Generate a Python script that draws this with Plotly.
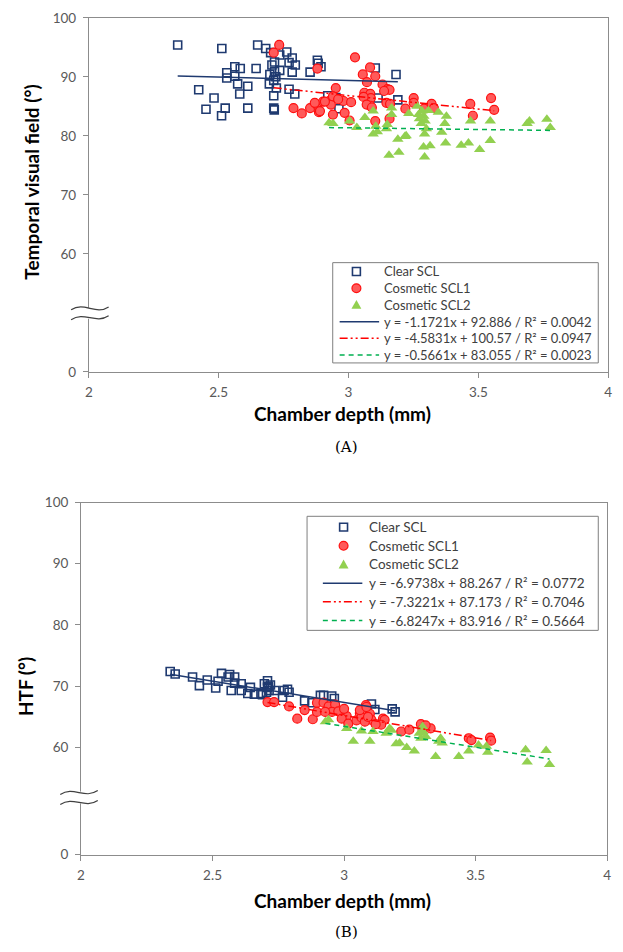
import plotly.graph_objects as go

# ---------------- DATA ----------------
series_names = ["Clear SCL", "Cosmetic SCL1", "Cosmetic SCL2"]

# Panel A: Temporal visual field (deg) vs chamber depth (mm)
a_clear_x = [2.342, 2.512, 2.650, 2.681, 2.700, 2.735, 2.762, 2.783, 2.771, 2.795, 2.783, 2.852, 2.880, 2.883, 2.894,
             2.531, 2.562, 2.583, 2.531, 2.562, 2.573, 2.581, 2.612, 2.644, 2.423, 2.482, 2.451, 2.525, 2.511, 2.612,
             2.712, 2.714, 2.697, 2.695, 2.712, 2.715, 2.715, 2.712, 2.722, 2.735, 2.771, 2.793, 3.103, 3.183, 2.920,
             2.951, 2.963, 3.114, 3.190, 2.705, 2.720]
a_clear_y = [95.4, 94.8, 95.4, 94.8, 94.1, 93.7, 94.2, 93.2, 92.4, 92.0, 90.8, 90.8, 92.8, 92.3, 91.7,
             90.7, 91.7, 91.4, 89.8, 90.1, 88.8, 87.1, 88.4, 91.4, 87.8, 86.4, 84.5, 84.7, 83.4, 84.7,
             84.7, 84.4, 90.4, 88.8, 89.4, 90.9, 92.5, 86.8, 88.1, 91.1, 87.9, 87.1, 91.5, 90.4, 86.8,
             86.5, 84.6, 86.4, 86.1, 92.0, 90.0]

a_cos1_x = [2.733, 2.712, 2.788, 2.820, 2.852, 2.880, 2.886, 2.880, 3.025, 3.083, 3.055, 3.103, 3.071, 3.131, 3.150,
            3.158, 2.951, 3.061, 3.084, 3.086, 3.058, 3.137, 2.902, 2.932, 2.932, 2.981, 3.010, 2.940, 2.909, 2.890,
            2.940, 2.985, 3.004, 3.103, 3.158, 3.084, 3.146, 3.160, 3.251, 3.251, 3.219, 3.291, 3.320, 3.329, 3.469,
            3.479, 3.549, 3.561, 2.960, 3.070, 3.090, 2.870]
a_cos1_y = [95.4, 94.1, 84.7, 83.8, 84.7, 85.2, 84.0, 91.4, 93.3, 91.6, 90.4, 90.1, 89.1, 88.7, 87.9,
            87.8, 88.1, 87.3, 87.1, 86.4, 86.6, 87.6, 85.8, 86.1, 85.3, 85.9, 85.7, 86.7, 85.8, 84.2,
            83.6, 83.9, 82.6, 82.5, 82.9, 85.1, 85.6, 85.4, 86.4, 85.6, 84.6, 84.6, 85.4, 84.7, 85.4,
            83.4, 86.4, 84.4, 86.2, 85.3, 84.8, 85.6]

a_cos2_x = [2.925, 2.940, 3.004, 3.032, 3.063, 3.095, 3.095, 3.111, 3.105, 3.146, 3.149, 3.166, 3.166, 3.190, 3.217,
            3.156, 3.194, 3.232, 3.264, 3.273, 3.280, 3.295, 3.293, 3.289, 3.293, 3.314, 3.308, 3.346, 3.359, 3.371,
            3.377, 3.374, 3.434, 3.462, 3.470, 3.505, 3.546, 3.546, 3.688, 3.697, 3.764, 3.777, 3.283, 3.290, 3.300,
            3.270, 3.222]
a_cos2_y = [82.2, 82.1, 82.5, 81.4, 83.1, 84.2, 80.3, 80.7, 81.6, 81.2, 81.9, 84.7, 83.6, 79.4, 79.9,
            76.7, 77.2, 83.8, 85.0, 82.9, 82.1, 82.5, 80.3, 78.1, 76.4, 78.3, 84.3, 84.0, 80.6, 82.1,
            83.3, 78.8, 78.4, 78.8, 82.5, 77.7, 82.5, 79.2, 82.1, 82.5, 82.8, 81.4, 84.2, 83.3, 81.2,
            83.6, 80.0]

a_slopes = [-1.1721, -4.5831, -0.5661]
a_intercepts = [92.886, 100.57, 83.055]
a_r2 = ["0.0042", "0.0947", "0.0023"]
a_intercept_txt = ["92.886", "100.57", "83.055"]

# Panel B: HTF (deg) vs chamber depth (mm)
b_clear_x = [2.339, 2.358, 2.424, 2.450, 2.480, 2.512, 2.521, 2.534, 2.559, 2.565, 2.584, 2.571, 2.584, 2.609, 2.609,
             2.634, 2.644, 2.659, 2.684, 2.697, 2.709, 2.709, 2.715, 2.720, 2.737, 2.766, 2.772, 2.791, 2.785, 2.850,
             2.878, 2.910, 2.922, 2.953, 2.963, 3.104, 3.117, 3.183, 3.194, 2.705, 2.712, 2.690]
b_clear_y = [72.4, 72.0, 71.5, 70.1, 71.0, 69.7, 70.8, 72.1, 71.5, 71.9, 71.5, 69.3, 70.5, 69.3, 70.4,
             68.8, 69.8, 68.7, 68.8, 70.4, 70.9, 69.8, 69.3, 70.2, 69.3, 68.2, 69.3, 69.0, 69.5, 67.6,
             67.3, 68.5, 68.5, 68.4, 68.0, 67.1, 66.2, 66.3, 65.8, 69.0, 70.0, 68.6]

b_cos1_x = [2.709, 2.734, 2.791, 2.822, 2.850, 2.881, 2.897, 2.897, 2.922, 2.941, 2.966, 2.954, 2.928, 2.978, 3.010,
            2.991, 3.016, 3.047, 3.060, 3.079, 3.098, 3.066, 3.104, 3.079, 3.083, 3.060, 3.085, 3.091, 3.148, 3.154,
            3.141, 3.217, 3.248, 3.292, 3.329, 3.298, 3.310, 3.474, 3.484, 3.555, 3.559, 3.120, 3.000]
b_cos1_y = [67.4, 67.4, 66.7, 64.7, 66.1, 64.6, 65.8, 67.3, 67.3, 66.7, 67.0, 65.8, 65.8, 65.9, 65.1,
            64.7, 63.9, 64.4, 65.6, 65.9, 65.5, 64.9, 64.5, 64.2, 66.9, 66.1, 66.6, 65.0, 64.7, 64.5,
            63.7, 62.6, 62.9, 63.8, 63.1, 63.0, 63.6, 61.5, 61.2, 61.6, 61.1, 63.8, 66.3]

b_cos2_x = [2.929, 2.941, 3.010, 3.035, 3.066, 3.098, 3.110, 3.160, 3.173, 3.198, 3.211, 3.238, 3.267, 3.286, 3.298,
            3.292, 3.311, 3.348, 3.367, 3.373, 3.436, 3.474, 3.511, 3.546, 3.541, 3.690, 3.696, 3.768, 3.781, 3.180,
            3.300, 3.360]
b_cos2_y = [64.2, 64.5, 63.1, 61.0, 62.7, 61.0, 62.6, 62.3, 63.1, 60.6, 60.7, 60.0, 59.4, 62.3, 63.4,
            61.5, 61.8, 58.5, 61.5, 60.7, 58.5, 59.4, 60.4, 59.2, 60.2, 59.6, 57.6, 59.5, 57.2, 62.8,
            62.6, 61.0]

b_slopes = [-6.9738, -7.3221, -6.8247]
b_intercepts = [88.267, 87.173, 83.916]
b_r2 = ["0.0772", "0.7046", "0.5664"]
b_intercept_txt = ["88.267", "87.173", "83.916"]

x_ticks = [2, 2.5, 3, 3.5, 4]
a_y_tickvals = [40, 60, 70, 80, 90, 100]      # "0" drawn below the axis break
b_y_tickvals = [42.5, 60, 70, 80, 90, 100]
y_ticktext = ["0", "60", "70", "80", "90", "100"]

# ---------------- STYLE ----------------
W, H = 623, 952
NAVY = "#1F3A70"
RED_FILL = "#FF5A5A"
RED_EDGE = "#FF1010"
GREEN = "#92D050"
GREEN_LINE = "#00B050"
AXIS = "#8C8C8C"
SANS = "Lato, Carlito, Calibri, sans-serif"
TICKFONT = dict(family=SANS, size=13.5, color="#595959")


def PX(x):
    return x / W


def PY(y):
    return 1 - y / H


marker_styles = [
    dict(symbol="square-open", size=8, color=NAVY, line=dict(width=1.6, color=NAVY)),
    dict(symbol="circle", size=9, color=RED_FILL, line=dict(width=1.2, color=RED_EDGE)),
    dict(symbol="triangle-up", size=10, color=GREEN, line=dict(width=0)),
]
line_styles = [
    dict(color=NAVY, width=1.5, dash="solid"),
    dict(color="#FF0000", width=1.5, dash="8px,3px,2px,3px,2px,3px"),
    dict(color=GREEN_LINE, width=1.5, dash="5px,4px"),
]

fig = go.Figure()

panels = [
    dict(xs=[a_clear_x, a_cos1_x, a_cos2_x], ys=[a_clear_y, a_cos1_y, a_cos2_y],
         slopes=a_slopes, ints=a_intercepts, itxt=a_intercept_txt, r2=a_r2, xa="x", ya="y",
         # legend box (pixels): left, top, right, bottom, marker-x, line x0, line x1, text-x, row0, row step, font
         leg=(333, 259, 602, 361, 357, 340, 380, 383, 268, 17, 13)),
    dict(xs=[b_clear_x, b_cos1_x, b_cos2_x], ys=[b_clear_y, b_cos1_y, b_cos2_y],
         slopes=b_slopes, ints=b_intercepts, itxt=b_intercept_txt, r2=b_r2, xa="x2", ya="y2",
         leg=(307, 517, 602, 633, 344, 323, 363, 368, 528, 19, 13.5)),
]

for p in panels:
    labels = []
    for i, name in enumerate(series_names):
        fig.add_trace(go.Scatter(x=p["xs"][i], y=p["ys"][i], mode="markers", name=name,
                                 marker=marker_styles[i], xaxis=p["xa"], yaxis=p["ya"]))
        labels.append(name)
    for i in range(3):
        x0, x1 = min(p["xs"][i]), max(p["xs"][i])
        s, c = p["slopes"][i], p["ints"][i]
        label = f"y = {s:.4f}x + {p['itxt'][i]} / R\u00b2 = {p['r2'][i]}"
        fig.add_trace(go.Scatter(x=[x0, x1], y=[s * x0 + c, s * x1 + c], mode="lines", name=label,
                                 line=line_styles[i], xaxis=p["xa"], yaxis=p["ya"]))
        labels.append(label)

    # Legend box drawn as layout decoration
    L, T, R, B, mx, lx0, lx1, tx, r0, step, fs = p["leg"]
    fig.add_shape(type="rect", xref="paper", yref="paper", x0=PX(L), x1=PX(R), y0=PY(B), y1=PY(T),
                  fillcolor="white", line=dict(color="#7F7F7F", width=1), layer="above")
    for k, lab in enumerate(labels):
        yc = r0 + k * step
        fig.add_annotation(xref="paper", yref="paper", x=PX(tx), y=PY(yc), xanchor="left", yanchor="middle",
                           text=lab, showarrow=False, font=dict(family=SANS, size=fs, color="#404040"))
        if k == 0:
            fig.add_shape(type="rect", xref="paper", yref="paper", x0=PX(mx - 4), x1=PX(mx + 4),
                          y0=PY(yc + 4), y1=PY(yc - 4), line=dict(color=NAVY, width=1.6),
                          fillcolor="rgba(0,0,0,0)", layer="above")
        elif k == 1:
            fig.add_shape(type="circle", xref="paper", yref="paper", x0=PX(mx - 4.5), x1=PX(mx + 4.5),
                          y0=PY(yc + 4.5), y1=PY(yc - 4.5), line=dict(color=RED_EDGE, width=1.2),
                          fillcolor=RED_FILL, layer="above")
        elif k == 2:
            fig.add_shape(type="path", xref="paper", yref="paper",
                          path=f"M {PX(mx - 5)},{PY(yc + 4)} L {PX(mx + 5)},{PY(yc + 4)} L {PX(mx)},{PY(yc - 5)} Z",
                          line=dict(width=0), fillcolor=GREEN, layer="above")
        else:
            st = line_styles[k - 3]
            fig.add_shape(type="line", xref="paper", yref="paper", x0=PX(lx0), x1=PX(lx1),
                          y0=PY(yc), y1=PY(yc), line=dict(color=st["color"], width=1.5, dash=st["dash"]),
                          layer="above")

axis_common = dict(showline=True, linecolor=AXIS, linewidth=1, mirror=True, showgrid=False, zeroline=False,
                   ticks="outside", ticklen=5, tickcolor=AXIS, tickfont=TICKFONT)

fig.update_layout(
    width=W, height=H, margin=dict(l=0, r=0, t=0, b=0),
    paper_bgcolor="white", plot_bgcolor="white", showlegend=False,
    xaxis=dict(domain=[PX(86), PX(612)], anchor="y", range=[2, 4], tickvals=x_ticks,
               ticklabelstandoff=3, **axis_common),
    yaxis=dict(domain=[PY(370), PY(10)], anchor="x", range=[40, 100], tickvals=a_y_tickvals,
               ticktext=y_ticktext, ticklabelstandoff=4, **axis_common),
    xaxis2=dict(domain=[PX(78), PX(611)], anchor="y2", range=[2, 4], tickvals=x_ticks,
                ticklabelstandoff=3, **axis_common),
    yaxis2=dict(domain=[PY(861), PY(503)], anchor="x2", range=[42.5, 100], tickvals=b_y_tickvals,
                ticktext=y_ticktext, ticklabelstandoff=4, **axis_common),
)

# Axis titles and panel labels
ann = [
    dict(text="<b>Chamber depth (mm)</b>", x=PX(343), y=PY(412), font=dict(size=19)),
    dict(text="<b>Temporal visual field (°)</b>", x=PX(27), y=PY(177), textangle=-90, font=dict(size=19)),
    dict(text="(A)", x=PX(347), y=PY(447), font=dict(size=15, family="DejaVu Serif")),
    dict(text="<b>Chamber depth (mm)</b>", x=PX(343), y=PY(908), font=dict(size=19)),
    dict(text="<b>HTF (°)</b>", x=PX(22), y=PY(690), textangle=-90, font=dict(size=19)),
    dict(text="(B)", x=PX(347), y=PY(940), font=dict(size=15, family="DejaVu Serif")),
]
for a in ann:
    f = dict(family=SANS, color="black")
    f.update(a.pop("font"))
    fig.add_annotation(xref="paper", yref="paper", showarrow=False, font=f,
                       xanchor="center", yanchor="middle", **a)


# Axis-break decoration
def wave(x0, x1, y0, y1):
    w = x1 - x0
    pts = [(x0, y0), (x0 + w * 0.35, y0 - 9), (x0 + w * 0.65, y1 + 9), (x1, y1)]
    (a, b), (c, d), (e, f), (g, h) = [(PX(px), PY(py)) for px, py in pts]
    return f"M {a},{b} C {c},{d} {e},{f} {g},{h}"


for (ax, x0, x1, yu0, yu1, yl0, yl1) in [(86, 68, 106, 307, 304, 317, 313),
                                          (78, 57, 95, 800, 796, 810, 806)]:
    fig.add_shape(type="rect", xref="paper", yref="paper", x0=PX(ax - 3), x1=PX(ax + 3),
                  y0=PY(max(yl0, yl1) - 1), y1=PY(min(yu0, yu1) + 1),
                  fillcolor="white", line=dict(width=0), layer="above")
    for (ya, yb) in [(yu0, yu1), (yl0, yl1)]:
        fig.add_shape(type="path", xref="paper", yref="paper", path=wave(x0, x1, ya, yb),
                      line=dict(color="#404040", width=1.2), layer="above")

fig.write_html("out.html")
